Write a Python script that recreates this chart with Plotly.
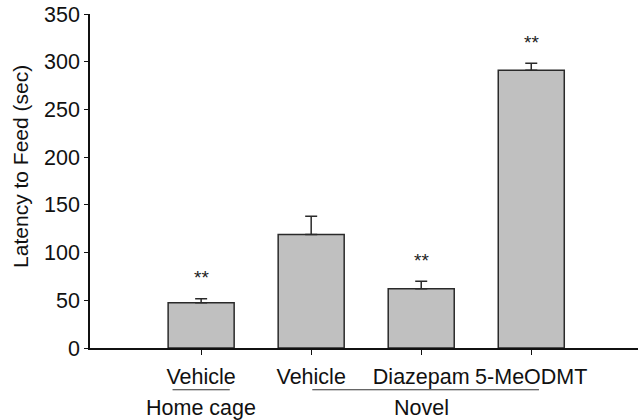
import plotly.graph_objects as go

# ---- data ----
conditions = ["Vehicle", "Vehicle", "Diazepam", "5-MeODMT"]
latency_mean = [47.5, 119, 62, 291]
latency_sem = [4, 19, 8, 7.5]
significance = ["**", "", "**", "**"]
groups = ["Home cage", "Novel"]
group_first = [0, 1]
group_last = [0, 3]
y_ticks = [0, 50, 100, 150, 200, 250, 300, 350]
y_title = "Latency to Feed (sec)"

FONT = "Liberation Sans, Arial, Helvetica, sans-serif"
FS = 21.5
x_pos = list(range(len(conditions)))

fig = go.Figure()
fig.add_trace(go.Bar(
    x=x_pos, y=latency_mean, width=0.6,
    marker=dict(color="#c0c0c0", line=dict(color="#2a2a2a", width=1.5)),
    error_y=dict(type="data", array=latency_sem, symmetric=False,
                 arrayminus=[0] * len(latency_sem),
                 color="#2a2a2a", thickness=1.5, width=6),
    showlegend=False, hoverinfo="skip",
))

annotations = []
for i, s in enumerate(significance):
    if s:
        annotations.append(dict(
            x=i, y=latency_mean[i] + latency_sem[i] + 22, xref="x", yref="y",
            text=s, showarrow=False, yanchor="middle",
            font=dict(family=FONT, size=19, color="#222")))

shapes = []
for g, a, b in zip(groups, group_first, group_last):
    x0 = a - 0.26 if a == b else a + 0.01
    x1 = b + 0.26 if a == b else b + 0.07
    shapes.append(dict(type="line", xref="x", yref="paper",
                       x0=x0, x1=x1, y0=-0.125, y1=-0.125,
                       line=dict(color="#333", width=1.2)))
    annotations.append(dict(
        x=(a + b) / 2, y=-0.18, xref="x", yref="paper", text=g,
        showarrow=False, yanchor="middle",
        font=dict(family=FONT, size=FS, color="#111")))

annotations.append(dict(
    x=-0.126, y=0.545, xref="paper", yref="paper", text=y_title,
    textangle=-90, showarrow=False, xanchor="center", yanchor="middle",
    font=dict(family=FONT, size=21, color="#111")))

fig.update_layout(
    width=638, height=420,
    margin=dict(l=90, r=0, t=14, b=72, autoexpand=False),
    paper_bgcolor="white", plot_bgcolor="white",
    font=dict(family=FONT, size=FS, color="#111"),
    annotations=annotations, shapes=shapes,
    xaxis=dict(range=[-1.01, 3.97], tickvals=x_pos, ticktext=conditions,
               showgrid=False, zeroline=False, showline=True,
               linecolor="#111", linewidth=1.5,
               ticks="outside", ticklen=5, tickwidth=1.2, tickcolor="#111",
               ticklabelstandoff=3,
               tickfont=dict(family=FONT, size=FS, color="#111")),
    yaxis=dict(range=[0, 350], tickvals=y_ticks, showgrid=False,
               zeroline=False, showline=True, linecolor="#111", linewidth=1.5,
               ticks="outside", ticklen=4, tickwidth=1.2, tickcolor="#111",
               ticklabeloverflow="allow",
               tickfont=dict(family=FONT, size=FS, color="#111")),
)

fig.write_html(
    "out.html",
    config={"displayModeBar": False},
    post_script="document.body.style.margin='0';document.body.style.overflow='hidden';",
)
